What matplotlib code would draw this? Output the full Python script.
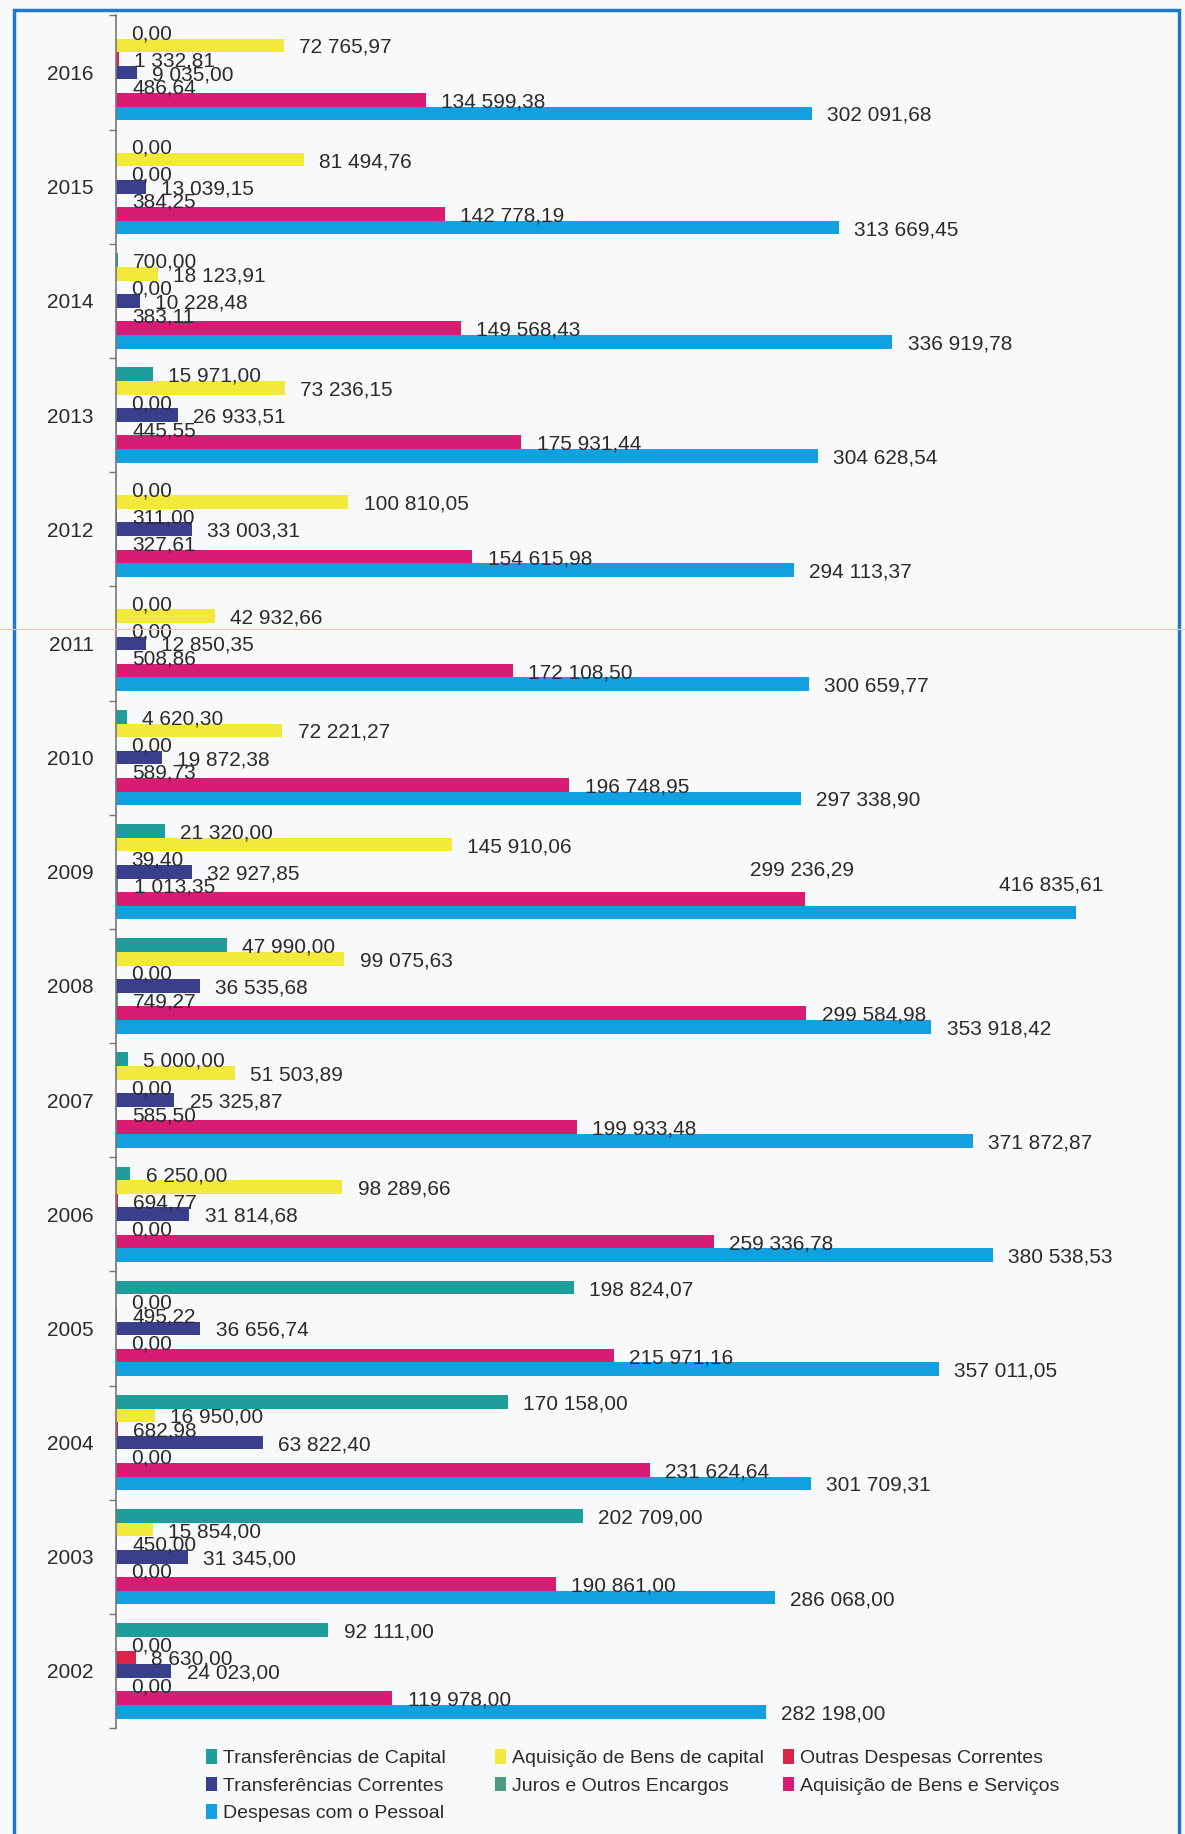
import numpy as np
import matplotlib.pyplot as plt
from matplotlib.patches import Rectangle, Patch
from matplotlib.lines import Line2D

plt.rcParams['font.family'] = ['Liberation Sans', 'DejaVu Sans']

anos = ['2016', '2015', '2014', '2013', '2012', '2011', '2010', '2009',
        '2008', '2007', '2006', '2005', '2004', '2003', '2002']

transf_capital = [0.00, 0.00, 700.00, 15971.00, 0.00, 0.00, 4620.30, 21320.00,
                  47990.00, 5000.00, 6250.00, 198824.07, 170158.00, 202709.00, 92111.00]
aquis_bens_capital = [72765.97, 81494.76, 18123.91, 73236.15, 100810.05, 42932.66, 72221.27, 145910.06,
                      99075.63, 51503.89, 98289.66, 0.00, 16950.00, 15854.00, 0.00]
outras_desp_correntes = [1332.81, 0.00, 0.00, 0.00, 311.00, 0.00, 0.00, 39.40,
                         0.00, 0.00, 694.77, 495.22, 682.98, 450.00, 8630.00]
transf_correntes = [9035.00, 13039.15, 10228.48, 26933.51, 33003.31, 12850.35, 19872.38, 32927.85,
                    36535.68, 25325.87, 31814.68, 36656.74, 63822.40, 31345.00, 24023.00]
juros_encargos = [486.64, 384.25, 383.11, 445.55, 327.61, 508.86, 589.73, 1013.35,
                  749.27, 585.50, 0.00, 0.00, 0.00, 0.00, 0.00]
bens_servicos = [134599.38, 142778.19, 149568.43, 175931.44, 154615.98, 172108.50, 196748.95, 299236.29,
                 299584.98, 199933.48, 259336.78, 215971.16, 231624.64, 190861.00, 119978.00]
desp_pessoal = [302091.68, 313669.45, 336919.78, 304628.54, 294113.37, 300659.77, 297338.90, 416835.61,
                353918.42, 371872.87, 380538.53, 357011.05, 301709.31, 286068.00, 282198.00]

series = [
    ('Transferências de Capital', transf_capital, '#1d9e9b'),
    ('Aquisição de Bens de capital', aquis_bens_capital, '#f3e93a'),
    ('Outras Despesas Correntes', outras_desp_correntes, '#dc2448'),
    ('Transferências Correntes', transf_correntes, '#3a3f8c'),
    ('Juros e Outros Encargos', juros_encargos, '#4c9a82'),
    ('Aquisição de Bens e Serviços', bens_servicos, '#d81c74'),
    ('Despesas com o Pessoal', desp_pessoal, '#12a0e0'),
]

# rotulos deslocados no original (serie, ano) -> offset em pontos
desloc = {
    ('Aquisição de Bens e Serviços', '2009'): (-40, 21),
    ('Despesas com o Pessoal', '2009'): (-56, 19.5),
}


def fmt(v):
    return f"{v:,.2f}".replace(',', ' ').replace('.', ',')


W, H = 1185, 1834
fig = plt.figure(figsize=(W / 100, H / 100), dpi=100)
fig.patch.set_facecolor('#f8f9fb')

# posicao dos eixos (em pixels da imagem)
x0, x1 = 116, 116 + 450000 * 0.002304
y_top, y_bot = 15.5, 1728
ax = fig.add_axes([x0 / W, 1 - y_bot / H, (x1 - x0) / W, (y_bot - y_top) / H])
ax.set_facecolor('none')

y = np.arange(len(anos))
n = len(series)
h = 0.834 / n

for i, (nome, vals, cor) in enumerate(series):
    pos = y + (i - 3) * h
    ax.barh(pos, vals, height=h, color=cor, label=nome)
    for ano, p, v in zip(anos, pos, vals):
        off = desloc.get((nome, ano), (11, -1.5))
        ax.annotate(fmt(v), (v, p), xytext=off, textcoords='offset points',
                    va='center', ha='left', fontsize=15, color='#2b2b2b')

ax.set_xlim(0, 450000)
ax.set_ylim(len(anos) - 0.5, -0.5)
ax.set_yticks(y)
ax.set_yticklabels(anos, fontsize=15, color='#2b2b2b')
ax.set_yticks(np.arange(len(anos) + 1) - 0.5, minor=True)
ax.tick_params(axis='y', which='major', length=0, pad=16)
ax.tick_params(axis='y', which='minor', length=5, width=1, color='#777777', direction='out')
ax.set_xticks([])
for s in ['top', 'right', 'bottom']:
    ax.spines[s].set_visible(False)
ax.spines['left'].set_color('#777777')
ax.spines['left'].set_linewidth(1.2)

# legenda: tres colunas colocadas a mao
cores = {nome: cor for nome, _, cor in series}
colunas = [
    (206, ['Transferências de Capital', 'Transferências Correntes', 'Despesas com o Pessoal']),
    (495, ['Aquisição de Bens de capital', 'Juros e Outros Encargos']),
    (783, ['Outras Despesas Correntes', 'Aquisição de Bens e Serviços']),
]
for xc, nomes in colunas:
    fig.legend([Patch(facecolor=cores[k]) for k in nomes], nomes, ncol=1,
               frameon=False, loc='upper left', bbox_to_anchor=(xc / W, 1 - 1749 / H),
               borderpad=0, borderaxespad=0, fontsize=14,
               handlelength=0.55, handleheight=0.8, handletextpad=0.3,
               labelspacing=0.48, labelcolor='#2b2b2b')

# moldura azul e linha da digitalizacao
fig.add_artist(Rectangle((14 / W, -0.05), (1179 - 14) / W, 1.05 - 10 / H,
                         transform=fig.transFigure, fill=False,
                         edgecolor='#1f78c8', linewidth=2.5))
fig.add_artist(Line2D([0, 1], [1 - 629 / H] * 2, transform=fig.transFigure,
                      color='#f0c4b0', linewidth=0.8))

fig.savefig('out.png', dpi=100, facecolor=fig.get_facecolor())
